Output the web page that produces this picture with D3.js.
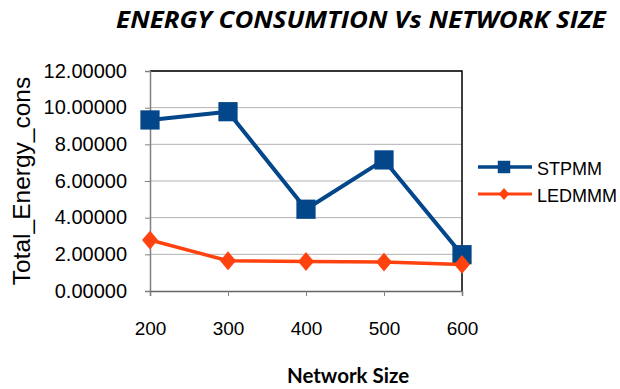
<!DOCTYPE html>
<html>
<head>
<meta charset="utf-8">
<script src="https://cdn.jsdelivr.net/npm/d3@7"></script>
<style>
  html, body { margin: 0; padding: 0; background: #fff; }
  svg { display: block; }
</style>
</head>
<body>
<svg id="chart" width="620" height="389"></svg>
<script>
// Network sizes and energy consumption per protocol
const networkSizes = ["200", "300", "400", "500", "600"];
const stpmmValues = [9.33, 9.78, 4.46, 7.15, 1.98];
const ledmmmValues = [2.78, 1.65, 1.61, 1.58, 1.45];
const yTickValues = [0, 2, 4, 6, 8, 10, 12];
const seriesNames = ["STPMM", "LEDMMM"];

const colors = { STPMM: "#03468a", LEDMMM: "#ff420e" };
const sansFont = "Liberation Sans, Arial, sans-serif";

const svg = d3.select("#chart");
const plot = { left: 150, right: 462, top: 71, bottom: 291 };

const x = d3.scalePoint().domain(networkSizes).range([plot.left, plot.right]).padding(0);
const y = d3.scaleLinear().domain([0, 12]).range([plot.bottom, plot.top]);

// Diamond marker with a configurable width/height ratio
const wideDiamond = ratio => ({
  draw(context, size) {
    const h = Math.sqrt(size / ratio) / 2;
    const w = h * ratio;
    context.moveTo(0, -h);
    context.lineTo(w, 0);
    context.lineTo(0, h);
    context.lineTo(-w, 0);
    context.closePath();
  }
});

// Horizontal gridlines
svg.append("g").selectAll("line").data(yTickValues.slice(1)).join("line")
  .attr("x1", plot.left).attr("x2", plot.right)
  .attr("y1", d => y(d)).attr("y2", d => y(d))
  .attr("stroke", "#b3b3b3").attr("stroke-width", 1);

// Plot frame: black on top and right
svg.append("path")
  .attr("d", `M${plot.left},${plot.top}H${plot.right}V${plot.bottom}`)
  .attr("fill", "none").attr("stroke", "#000").attr("stroke-width", 1.5);

// Y axis
const yAxis = svg.append("g").attr("transform", `translate(${plot.left},0)`)
  .call(d3.axisLeft(y).tickValues(yTickValues).tickFormat(d3.format(".5f")).tickSize(5).tickPadding(18));
yAxis.select(".domain").attr("stroke", "#808080").attr("stroke-width", 1.5);
yAxis.selectAll(".tick line").attr("stroke", "#808080");
yAxis.selectAll("text").attr("font-family", sansFont)
  .attr("font-size", 20).attr("fill", "#000").attr("dy", "0.3em");

// X axis
const xAxis = svg.append("g").attr("transform", `translate(0,${plot.bottom})`)
  .call(d3.axisBottom(x).tickSize(5).tickPadding(26));
xAxis.select(".domain").attr("stroke", "#666").attr("stroke-width", 1.5);
xAxis.selectAll(".tick line").attr("stroke", "#808080");
xAxis.selectAll("text").attr("font-family", sansFont)
  .attr("font-size", 19).attr("fill", "#000");

// Series
const series = [
  { name: "STPMM", values: stpmmValues, shape: d3.symbolSquare, size: 370, legendSize: 156, width: 4 },
  { name: "LEDMMM", values: ledmmmValues, shape: wideDiamond(0.85), size: 300, legendSize: 125, width: 3.5 }
];

const line = d3.line().x((d, i) => x(networkSizes[i])).y(d => y(d));

series.forEach(s => {
  const g = svg.append("g");
  g.append("path").datum(s.values).attr("d", line)
    .attr("fill", "none").attr("stroke", colors[s.name]).attr("stroke-width", s.width)
    .attr("stroke-linejoin", "round");
  g.selectAll("path.marker").data(s.values).join("path").attr("class", "marker")
    .attr("transform", (d, i) => `translate(${x(networkSizes[i])},${y(d)})`)
    .attr("d", d3.symbol().type(s.shape).size(s.size))
    .attr("fill", colors[s.name]);
});

// Legend
const legend = svg.append("g");
series.forEach((s, i) => {
  const ly = 167 + i * 27;
  legend.append("line").attr("x1", 478).attr("x2", 532).attr("y1", ly).attr("y2", ly)
    .attr("stroke", colors[s.name]).attr("stroke-width", s.width - 0.5);
  legend.append("path").attr("transform", `translate(504,${ly})`)
    .attr("d", d3.symbol().type(s.shape).size(s.legendSize))
    .attr("fill", colors[s.name]);
  legend.append("text").attr("x", 537).attr("y", ly + 8)
    .attr("font-family", sansFont).attr("font-size", 18)
    .text(seriesNames[i]);
});

// Titles (chart title drawn slightly widened)
svg.append("text").attr("transform", "translate(361,28) scale(1.15,1)").attr("text-anchor", "middle")
  .attr("font-family", "Open Sans, Lato, sans-serif").attr("font-weight", "bold")
  .attr("font-style", "italic").attr("font-size", 22.5)
  .text("ENERGY CONSUMTION Vs NETWORK SIZE");

svg.append("text").attr("x", 348).attr("y", 383).attr("text-anchor", "middle")
  .attr("font-family", "Lato, Open Sans, sans-serif").attr("font-weight", "bold")
  .attr("font-size", 20.5).text("Network Size");

svg.append("text").attr("transform", "translate(30,181) rotate(-90)").attr("text-anchor", "middle")
  .attr("font-family", sansFont).attr("font-size", 24.5)
  .text("Total_Energy_cons");
</script>
</body>
</html>
